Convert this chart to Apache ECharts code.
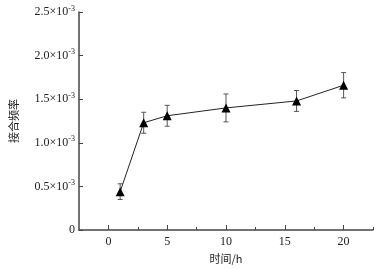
<!DOCTYPE html>
<html>
<head>
<meta charset="utf-8">
<script src="https://cdn.jsdelivr.net/npm/echarts@6/dist/echarts.min.js"></script>
<style>
  html, body { margin: 0; padding: 0; background: #fff; }
  #chart { width: 390px; height: 269px; }
</style>
</head>
<body>
<div id="chart"></div>
<script>
// time in hours, conjugation frequency in units of 1e-3
const hours = [1, 3, 5, 10, 16, 20]
const freqE3 = [0.44, 1.23, 1.31, 1.40, 1.48, 1.66]
const errE3 = [0.09, 0.12, 0.12, 0.16, 0.12, 0.145]
const majorX = [0, 5, 10, 15, 20]
const minorX = [2.5, 7.5, 12.5, 17.5, 22.5]

const serif = '"Liberation Serif", "Times New Roman", serif'
const cjk = '"Noto Sans CJK SC", sans-serif'
const axisColor = '#444'

const chart = echarts.init(document.getElementById('chart'))

const points = hours.map((h, i) => [h, freqE3[i]])
const bars = hours.map((h, i) => [h, freqE3[i] - errE3[i], freqE3[i] + errE3[i]])

const xBase = {
  type: 'value',
  min: -2.5,
  max: 22.5,
  splitLine: { show: false },
}

chart.setOption({
  animation: false,
  grid: { left: 77, right: 17, top: 12, bottom: 36 },
  xAxis: [
    {
      ...xBase,
      name: '时间/h',
      nameLocation: 'middle',
      nameGap: 23,
      nameTextStyle: { color: '#222', fontFamily: cjk, fontSize: 11 },
      axisLine: { onZero: false, lineStyle: { color: axisColor, width: 1.5 } },
      axisTick: { inside: true, length: 5, customValues: majorX, lineStyle: { color: axisColor } },
      axisLabel: { customValues: majorX, color: '#222', fontFamily: serif, fontSize: 12, margin: 6 },
    },
    {
      ...xBase,
      position: 'bottom',
      axisLine: { show: false, onZero: false },
      axisTick: { inside: true, length: 3, customValues: minorX, lineStyle: { color: axisColor } },
      axisLabel: { show: false },
    },
  ],
  yAxis: {
    type: 'value',
    min: 0,
    max: 2.5,
    interval: 0.5,
    name: '接合频率',
    nameLocation: 'middle',
    nameGap: 60,
    nameTextStyle: { color: '#222', fontFamily: cjk, fontSize: 11 },
    splitLine: { show: false },
    axisLine: { show: true, onZero: false, lineStyle: { color: axisColor, width: 1.5 } },
    axisTick: { inside: true, length: 4, lineStyle: { color: axisColor } },
    axisLabel: {
      color: '#222',
      fontFamily: serif,
      fontSize: 12,
      margin: 4,
      formatter: (v) => (v === 0 ? '0' : `${v.toFixed(1)}×10{sup|-3}`),
      rich: {
        sup: { fontSize: 8, fontFamily: serif, color: '#222', padding: [0, 0, 7, 0] },
      },
    },
  },
  series: [
    {
      type: 'custom',
      xAxisIndex: 0,
      z: 1,
      renderItem: (params, api) => {
        const x = api.value(0)
        const lo = api.coord([x, api.value(1)])
        const hi = api.coord([x, api.value(2)])
        const cap = 2.5
        const style = { stroke: '#555', lineWidth: 1 }
        return {
          type: 'group',
          children: [
            { type: 'line', shape: { x1: lo[0], y1: lo[1], x2: hi[0], y2: hi[1] }, style },
            { type: 'line', shape: { x1: lo[0] - cap, y1: lo[1], x2: lo[0] + cap, y2: lo[1] }, style },
            { type: 'line', shape: { x1: hi[0] - cap, y1: hi[1], x2: hi[0] + cap, y2: hi[1] }, style },
          ],
        }
      },
      data: bars,
    },
    {
      type: 'line',
      xAxisIndex: 0,
      z: 2,
      data: points,
      symbol: 'triangle',
      symbolSize: 9,
      itemStyle: { color: '#000' },
      lineStyle: { color: '#222', width: 1 },
    },
  ],
})
</script>
</body>
</html>
